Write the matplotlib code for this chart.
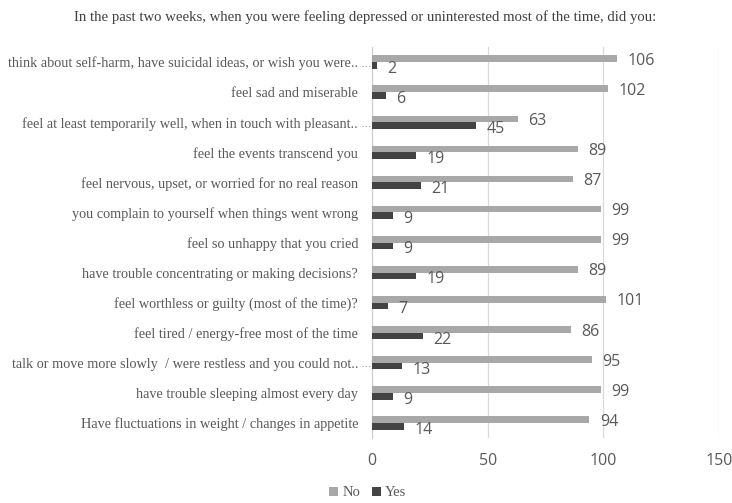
import matplotlib.pyplot as plt
import matplotlib.transforms as mtransforms
import numpy as np

title = "In the past two weeks, when you were feeling depressed or uninterested most of the time, did you:"

categories = [
    "think about self-harm, have suicidal ideas, or wish you were..",
    "feel sad and miserable",
    "feel at least temporarily well, when in touch with pleasant..",
    "feel the events transcend you",
    "feel nervous, upset, or worried for no real reason",
    "you complain to yourself when things went wrong",
    "feel so unhappy that you cried",
    "have trouble concentrating or making decisions?",
    "feel worthless or guilty (most of the time)?",
    "feel tired / energy-free most of the time",
    "talk or move more slowly  / were restless and you could not..",
    "have trouble sleeping almost every day",
    "Have fluctuations in weight / changes in appetite",
]
no_values = [106, 102, 63, 89, 87, 99, 99, 89, 101, 86, 95, 99, 94]
yes_values = [2, 6, 45, 19, 21, 9, 9, 19, 7, 22, 13, 9, 14]
x_ticks = [0, 50, 100, 150]

NO_COLOR = "#a8a8a8"
YES_COLOR = "#434343"
TEXT_COLOR = "#595959"
SERIF = ["Liberation Serif", "DejaVu Serif"]
SANS = ["Open Sans", "DejaVu Sans"]

fig = plt.figure(figsize=(7.32, 5.03), dpi=100)
ax = fig.add_axes([372 / 732, 1 - 438 / 503, (719 - 372) / 732, (438 - 47) / 503])

n = len(categories)
y = np.arange(n)
h = 0.22

ax.barh(y - h / 2, no_values, height=h, color=NO_COLOR, label="No", zorder=3)
ax.barh(y + h / 2, yes_values, height=h, color=YES_COLOR, label="Yes", zorder=3)

for yi, v in zip(y, no_values):
    ax.annotate(str(v), (v, yi - h / 2), xytext=(7.5, -1.5), textcoords="offset points",
                va="center", ha="left", fontsize=11.5, color=TEXT_COLOR, family=SANS)
for yi, v in zip(y, yes_values):
    ax.annotate(str(v), (v, yi + h / 2), xytext=(7.5, -2.5), textcoords="offset points",
                va="center", ha="left", fontsize=11.5, color=TEXT_COLOR, family=SANS)

ax.set_ylim(n - 0.5, -0.5)
ax.set_xlim(0, 150)
ax.set_xticks(x_ticks)
ax.set_xticklabels([str(t) for t in x_ticks], fontsize=11.5, color=TEXT_COLOR, family=SANS)
ax.set_yticks(y)
ax.set_yticklabels(categories, fontsize=10.3, color=TEXT_COLOR, family=SERIF)
ax.tick_params(axis="y", length=0, pad=10)
ax.tick_params(axis="x", length=0, pad=11)

ax.grid(axis="x", color="#d9d9d9", linewidth=0.9, zorder=0)
for side in ["top", "right", "bottom"]:
    ax.spines[side].set_visible(False)
ax.spines["left"].set_color("#d0d0d0")
ax.spines["left"].set_linewidth(0.9)

# dotted leaders for the truncated category labels
trans = mtransforms.blended_transform_factory(ax.transAxes, ax.transData)
for yi, lab in zip(y, categories):
    if lab.endswith(".."):
        ax.plot([-0.03, 0.0], [yi + 0.12, yi + 0.12], transform=trans, clip_on=False,
                color="#9a9a9a", linestyle=(0, (1, 2)), linewidth=0.8)

fig.text(365 / 732, 1 - 17 / 503, title, ha="center", va="center", fontsize=10.6,
         color="#404040", family=SERIF)

leg = fig.legend(loc="center", bbox_to_anchor=(368 / 732, 1 - 493 / 503), ncol=2,
                 frameon=False, handlelength=0.6, handleheight=0.6, handletextpad=0.3,
                 columnspacing=0.8, prop={"family": SERIF, "size": 10.5})
for t in leg.get_texts():
    t.set_color(TEXT_COLOR)

fig.savefig("out.png", dpi=100)
